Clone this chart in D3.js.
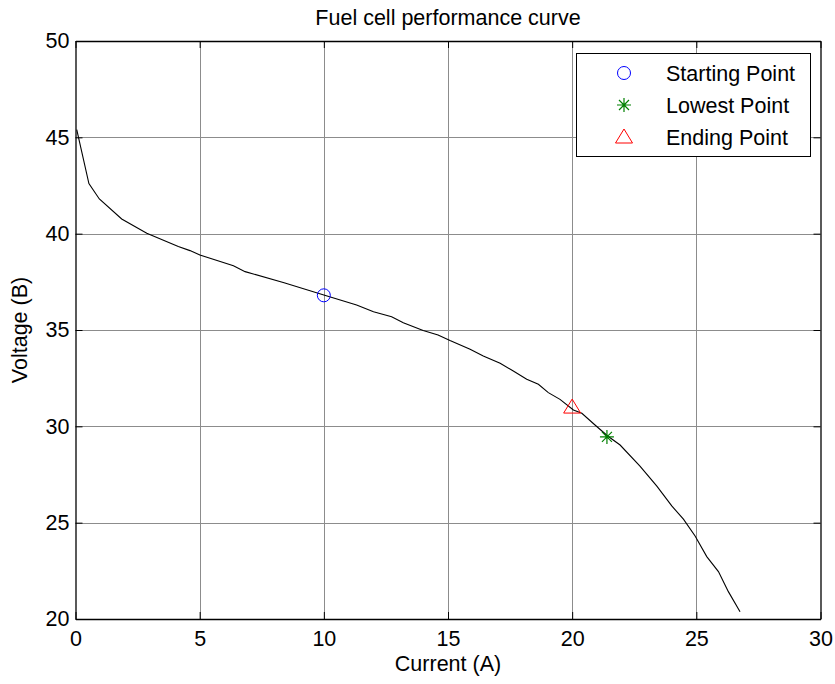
<!DOCTYPE html>
<html lang="en">
<head>
<meta charset="UTF-8">
<title>Fuel cell performance curve</title>
<style>
  body { margin: 0; background: #fff; }
  svg text { font-family: "Liberation Sans", Arial, sans-serif; fill: #000; }
</style>
</head>
<body>
<div id="chart"></div>
<script src="https://d3js.org/d3.v7.min.js"></script>
<script>
// data
const current = [0.05, 0.54, 0.96, 1.86, 2.87, 4.14, 4.61, 5.01, 6.36, 6.83, 8.4, 10.0,
  11.32, 12.0, 12.73, 13.2, 14.0, 14.6, 15.08, 15.89, 16.42, 17.1, 17.63, 18.17, 18.64,
  19.04, 19.51, 20.05, 20.39, 20.92, 21.43, 21.93, 22.73, 23.41, 24.01, 24.48, 24.95,
  25.42, 25.89, 26.29, 26.76];
const voltage = [45.4, 42.6, 41.8, 40.76, 40.02, 39.33, 39.12, 38.89, 38.34, 38.03, 37.45, 36.82,
  36.3, 35.95, 35.69, 35.38, 34.97, 34.74, 34.45, 34.0, 33.65, 33.27, 32.87, 32.44, 32.18,
  31.75, 31.4, 30.85, 30.68, 30.07, 29.5, 29.03, 27.94, 26.9, 25.87, 25.18, 24.31,
  23.24, 22.46, 21.42, 20.38];
const pointNames = ["Starting Point", "Lowest Point", "Ending Point"];
const pointX = [10, 21.4, 20];
const pointY = [36.8, 29.45, 31.0];
const xTicks = [0, 5, 10, 15, 20, 25, 30];
const yTicks = [20, 25, 30, 35, 40, 45, 50];

const W = 835, H = 684;
const m = {left: 75.5, right: 820.5, top: 41, bottom: 619};
const fs = 21.5;

const svg = d3.select("#chart").append("svg")
  .attr("width", W).attr("height", H);

const x = d3.scaleLinear().domain([0, 30]).range([m.left, m.right]);
const y = d3.scaleLinear().domain([20, 50]).range([m.bottom, m.top]);

// grid
const grid = svg.append("g").attr("stroke", "#8c8c8c").attr("stroke-width", 1);
grid.selectAll("line.gx").data(xTicks.slice(1, -1)).join("line")
  .attr("x1", d => Math.round(x(d)) + 0.5).attr("x2", d => Math.round(x(d)) + 0.5)
  .attr("y1", m.top).attr("y2", m.bottom);
grid.selectAll("line.gy").data(yTicks.slice(1, -1)).join("line")
  .attr("y1", d => Math.round(y(d)) + 0.5).attr("y2", d => Math.round(y(d)) + 0.5)
  .attr("x1", m.left).attr("x2", m.right);

// axes with inward ticks
function styleAxis(g) {
  g.select(".domain").attr("stroke", "#000").attr("stroke-width", 1.3);
  g.selectAll(".tick line").attr("stroke", "#000");
  g.selectAll("text").style("font-size", fs + "px").attr("fill", "#000");
}
svg.append("g").attr("transform", `translate(0,${m.bottom})`)
  .call(d3.axisBottom(x).tickValues(xTicks).tickSizeInner(-7).tickSizeOuter(0).tickPadding(12))
  .call(styleAxis);
svg.append("g").attr("transform", `translate(0,${m.top})`)
  .call(d3.axisTop(x).tickValues(xTicks).tickSizeInner(-7).tickSizeOuter(0).tickFormat(""))
  .call(styleAxis);
svg.append("g").attr("transform", `translate(${m.left},0)`)
  .call(d3.axisLeft(y).tickValues(yTicks).tickSizeInner(-7).tickSizeOuter(0).tickPadding(6))
  .call(styleAxis);
svg.append("g").attr("transform", `translate(${m.right},0)`)
  .call(d3.axisRight(y).tickValues(yTicks).tickSizeInner(-7).tickSizeOuter(0).tickFormat(""))
  .call(styleAxis);

// curve
svg.append("path")
  .datum(current.map((c, i) => [c, voltage[i]]))
  .attr("fill", "none").attr("stroke", "#000").attr("stroke-width", 1.1)
  .attr("d", d3.line().x(d => x(d[0])).y(d => y(d[1])));

// marker shapes
function drawMarker(g, i) {
  if (i === 0) {
    g.append("circle").attr("r", 6.5).attr("fill", "none").attr("stroke", "#0000ff");
  } else if (i === 1) {
    g.append("path").attr("d", "M-7,0H7M0,-7V7M-5,-5L5,5M-5,5L5,-5")
      .attr("fill", "none").attr("stroke", "#008000").attr("stroke-width", 1.2);
  } else {
    g.append("path").attr("d", "M0,-8L8.5,6H-8.5Z")
      .attr("fill", "none").attr("stroke", "#ff0000");
  }
}
pointNames.forEach((n, i) => {
  const g = svg.append("g").attr("transform", `translate(${x(pointX[i])},${y(pointY[i])})`);
  drawMarker(g, i);
});

// titles
svg.append("text").attr("x", (m.left + m.right) / 2).attr("y", 25)
  .attr("text-anchor", "middle").style("font-size", fs + "px")
  .text("Fuel cell performance curve");
svg.append("text").attr("x", (m.left + m.right) / 2).attr("y", 671)
  .attr("text-anchor", "middle").style("font-size", fs + "px")
  .text("Current (A)");
svg.append("text").attr("transform", `translate(27,${(m.top + m.bottom) / 2}) rotate(-90)`)
  .attr("text-anchor", "middle").style("font-size", fs + "px")
  .text("Voltage (B)");

// legend
const lg = svg.append("g");
lg.append("rect").attr("x", 576.5).attr("y", 53.5).attr("width", 234).attr("height", 103)
  .attr("fill", "#fff").attr("stroke", "#000");
const rowY = [73, 105, 137];
pointNames.forEach((n, i) => {
  const g = lg.append("g").attr("transform", `translate(624,${rowY[i]})`);
  drawMarker(g, i);
  lg.append("text").attr("x", 666).attr("y", rowY[i]).attr("dy", "0.35em")
    .style("font-size", fs + "px").text(n);
});
</script>
</body>
</html>
